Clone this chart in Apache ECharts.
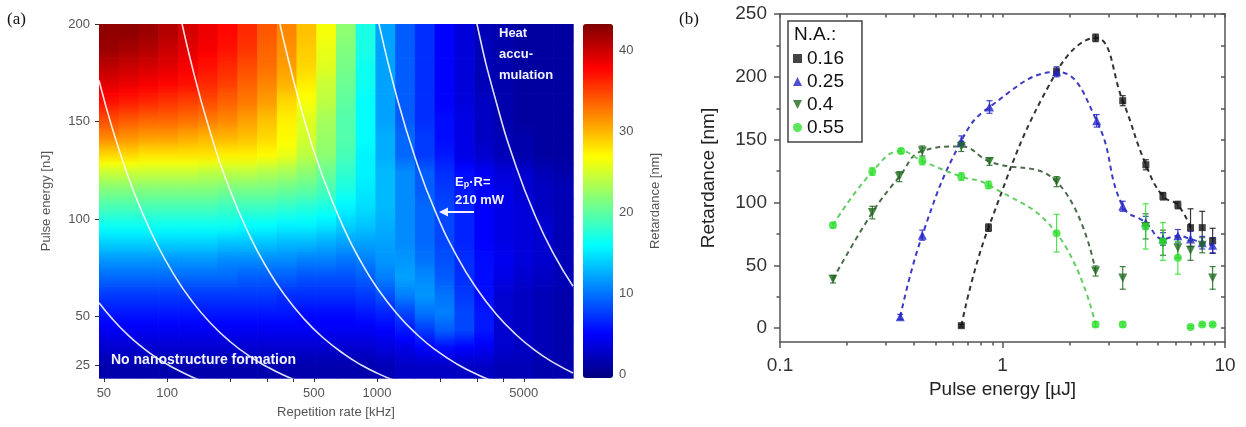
<!DOCTYPE html>
<html><head><meta charset="utf-8">
<script src="https://cdn.jsdelivr.net/npm/echarts@6/dist/echarts.min.js"></script>
<style>html,body{margin:0;padding:0;background:#fff}#c{width:1246px;height:427px}</style>
</head><body><div id="c"></div><script>
// ================= Panel (a) data =================
const repRate = [52.8, 65.6, 81.5, 101, 126, 156, 194, 241, 299, 371, 461, 572, 710, 882, 1095, 1360, 1689, 2097, 2604, 3233, 4014, 4984, 6189, 7685];
const pulseE = [196, 187, 178, 169, 160, 151, 142, 133, 124, 115, 106, 97, 88, 79, 70, 61, 52, 43, 34, 25];
const retard = [
 [42.5,42.5,42,41,39.5,38.5,37.5,36,34,32,29.5,26.5,22,17,12,9,7,5,3.5,2,1.5,1,1,1],
 [42,41.5,41,40,39,38,37,35.5,33.5,31.5,29,26,21.5,17,12,9,7,5,3.5,2,1.5,1,1,1],
 [40.5,40,39.5,39,38,37,36,34.5,33,31,28.5,25.5,21,16.5,12,9,7,5,3.5,2,1.5,1,1,1],
 [39,38.5,38,37.5,37,36,35,33.5,32,30,27.5,24.5,20.5,16.5,12,9,7,5,3.5,2,1.5,1,1,1],
 [37,36.5,36,35.5,35,34.5,33.5,32.5,31,28.5,26.5,24,20,16,12,9,7,5,3.5,2.5,1.5,1,1,1],
 [34.5,34,33.5,33.5,33,32.5,32,31,29.5,27.5,25.5,23,19.5,16,12,9,7,5.5,4,2.5,1.5,1,1,1],
 [32,31.5,31,31,30.5,30,30,29.5,28.5,27,25,22.5,19.5,16,12.5,9.5,7.5,5.5,4,2.5,2,1.5,1,1],
 [28.5,28.5,28,28,28,28,27.5,27.5,27,26,24,22,19,15.5,12.5,9.5,7.5,6,4,3,2,1.5,1,1],
 [24.5,24.5,24.5,24.5,24.5,24,24,24,23.5,23,22,20.5,18,15.5,13,11,9,7,5.5,4.5,3.5,3,2,1.5],
 [21.5,21.5,21.5,21.5,21.5,21.5,21,21,21,20.5,20,19,17,15,13,11,9,7.5,6,5,4,3,2.5,2],
 [19,19,19,19,19,19,18.5,18.5,18.5,18,17.5,17,15.5,14.5,13,11,9.5,8,6.5,5,4,3.5,2.5,2],
 [16.5,16.5,16.5,16.5,16.5,16.5,16.5,16,16,15.5,15.5,15,14,13.5,12.5,11,9.5,8,6.5,5,4,3.5,3,2],
 [14,14,14,14,14,14,13.5,13.5,13.5,13,13,12.5,12,12,12,11,9.5,8,6.5,5,4,3.5,3,2],
 [11.5,11.5,11.5,11.5,11.5,11.5,11,11,11,11,10.5,10.5,10,10.5,11.5,11.5,10,8.5,7,5.5,4.5,3.5,3,2],
 [9.5,9.5,9.5,9.5,9.5,9.5,9.5,9,9,9,8.5,8.5,8.5,9,10.5,12,11,9,7,5.5,4,3,2.5,2],
 [7.5,7.5,7.5,7.5,7.5,7.5,7.5,7.5,7.5,7,7,7,7,7.5,8.5,10.5,11.5,10,7.5,5.5,3,2.5,2,1.5],
 [6,6,6,6,6,6,6,6,6,6,5.5,5.5,5.5,6,6.5,8,10,10.5,8,6,3,2.5,2,1.5],
 [4.5,4.5,4.5,4.5,4.5,4.5,4.5,4.5,4.5,4.5,4.5,4.5,4.5,4.5,5,6,7.5,9,8,6,3,2.5,2,1.5],
 [3,3,3,3,3,3,3,3,3,3,3,3,3,3,3.5,4,5,5.5,5,4.5,3,2.5,2,1.5],
 [1.5,1.5,1.5,1.5,1.5,1.5,1.5,1.5,1.5,1.5,1.5,1.5,1.5,1.5,2,2.5,2.5,2.5,2.5,2.5,2,2,1.5,1.5]
];
// constant-power contour lines
const contourR = [47.4,55,65,75,90,110,130,160,200,250,300,360,450,550,700,850,1000,1250,1550,1900,2400,3000,3700,4600,5700,7000,8580];
const contourA = [57,48.6,40.5,34.7,28.5,23.0,19.2,15.3,null,null,null,null,null,null,null,null,null,null,null,null,null,null,null,null,null,null,null];
const contourB = [171,146,122.3,105,86.5,69.9,58.5,46.9,37.0,29.2,24.1,19.8,15.6,null,null,null,null,null,null,null,null,null,null,null,null,null,null];
const contourC = [null,null,null,null,266,215.4,180.5,145,114.5,90.4,74.6,61.5,48.6,39.3,30.5,24.8,20.9,16.5,null,null,null,null,null,null,null,null,null];
const contourD = [null,null,null,null,null,null,null,null,null,281,232,191.2,150.9,122,94.5,76.9,64.7,51.1,40.7,32.8,25.6,20.2,16.2,null,null,null,null];
const contourE = [null,null,null,null,null,null,null,null,null,null,null,null,null,null,null,243,204.7,161.5,128.6,103.6,80.9,63.9,51.1,40.6,32.3,26.0,21.0];
const contourF = [null,null,null,null,null,null,null,null,null,null,null,null,null,null,null,null,null,null,null,null,252.7,199.5,159.8,126.8,101,81.3,65.5];
const repTickVals = [50,100,200,300,400,500,1000,2000,3000,4000,5000];
const repLabelVals = [50,100,500,1000,5000];
const energyTicksA = [25,50,100,150,200];
const cbarTicks = [0,5,10,15,20,25,30,35,40];
const cbarLabels = [0,10,20,30,40];

// ================= Panel (b) data =================
const x016 = [0.653,0.865,1.75,2.62,3.47,4.41,5.26,6.14,7.0,7.9,8.8];
const y016 = [2,80,204,231,181,130,105,98,80,80,69.5];
const e016 = [1,3,3,3,4,4,3,3,15,13,10];
const x025 = [0.347,0.436,0.653,0.874,1.75,2.65,3.47,4.4,5.26,6.14,7.0,7.9,8.8];
const y025 = [9,74,149,176,204,165,97,84,71,73.5,71,68,66];
const e025 = [2,4,4,5,4,5,4,5,5,5,6,5,6];
const x04 = [0.173,0.26,0.344,0.436,0.653,0.874,1.75,2.62,3.47,4.4,5.26,6.14,7.0,7.9,8.8];
const y04 = [39,92,120.6,141,144.6,132.6,116.6,45.5,40,81,68,64,62,66,40];
const e04 = [3,5,4,4,4,3,4,4,9,10,10,8,8,6,9];
const x055 = [0.173,0.26,0.35,0.436,0.653,0.865,1.75,2.62,3.47,4.4,5.26,6.14,7.0,7.9,8.8];
const y055 = [82,124.6,141,133,120.6,114,75.6,3,3,81,69,56,1,3,3];
const e055 = [2,3,2,3,3,3,15,2,2,18,15,13,1,1,1];
// dashed guide curves (points along each curve)
const fit016 = [[0.653,2],[0.865,80],[1.75,204],[2.62,231],[3.47,181],[4.41,130],[5.26,105],[6.14,98],[7.0,80]];
const fit025 = [[0.347,9],[0.436,74],[0.653,149],[0.874,176],[1.75,204],[2.65,165],[3.47,97],[4.4,84],[5.26,71],[6.14,73.5],[7.0,71],[7.9,68],[8.8,66]];
const fit04 = [[0.173,39],[0.26,92],[0.344,120.6],[0.436,141],[0.653,144.6],[0.874,132.6],[1.75,116.6],[2.62,45.5]];
const fit055 = [[0.173,82],[0.26,124.6],[0.35,141],[0.436,133],[0.653,120.6],[0.865,114],[1.75,75.6],[2.62,3]];
const naNames = ['0.16','0.25','0.4','0.55'];
const eMajorB = [0.1,1,10];
const eMinorB = [0.2,0.3,0.4,0.5,0.6,0.7,0.8,0.9,2,3,4,5,6,7,8,9];
const retTicksB = [0,50,100,150,200,250];
const retMinorB = [25,75,125,175,225];

// ================= build =================
const SANS = '"Liberation Sans", Arial, sans-serif';
const L10 = Math.log10;
const fmtPow = v => String(Number(Math.pow(10, v).toPrecision(3)));
const xMinA = 47.4, xMaxA = 8580, yMinA = 18.4, yMaxA = 200;
const cbMin = -0.4, cbMax = 43.2;
const JET = ['#00007F','#0000FF','#007FFF','#00FFFF','#7FFF7F','#FFFF00','#FF7F00','#FF0000','#7F0000'];
const jetColor = v => echarts.color.lerp(Math.max(0, Math.min(1, (v - cbMin) / (cbMax - cbMin))), JET);

const rEdges = [xMinA];
for (let i = 1; i < repRate.length; i++) rEdges.push(Math.sqrt(repRate[i-1]*repRate[i]));
rEdges.push(xMaxA);
const eEdges = [yMaxA];
for (let i = 1; i < pulseE.length; i++) eEdges.push((pulseE[i-1]+pulseE[i])/2);
eEdges.push(yMinA);

const heatData = [];
retard.forEach((row, ri) => row.forEach((v, ci) => heatData.push([repRate[ci], pulseE[ri], v, ci, ri])));

const contourSeries = [contourA, contourB, contourC, contourD, contourE, contourF].map(arr => ({
  type: 'line', xAxisIndex: 0, yAxisIndex: 0, smooth: true, showSymbol: false, silent: true,
  data: contourR.map((r, i) => [r, arr[i]]).filter(p => p[1] !== null),
  lineStyle: { color: 'rgba(255,255,255,0.88)', width: 1.6 }, z: 5
}));

const colors = ['#141414', '#2424c8', '#1f6a1f', '#30e030'];
const fitColors = ['#333333', '#3b3bc4', '#4d6b4d', '#66cc66'];
const symbols = ['rect', 'triangle', 'path://M0,0 L10,0 L5,10 Z', 'circle'];
const sizes = [7, 9, 9, 8];
const xs = [x016, x025, x04, x055], ys = [y016, y025, y04, y055], es = [e016, e025, e04, e055];
const fits = [fit016, fit025, fit04, fit055];

const bSeries = [];
fits.forEach((f, k) => bSeries.push({
  type: 'line', name: 'fit' + k, xAxisIndex: 2, yAxisIndex: 1, data: f, smooth: 0.45, showSymbol: false, silent: true,
  lineStyle: { color: fitColors[k], width: 2, type: [5, 4] }, z: 3
}));
xs.forEach((xa, k) => bSeries.push({
  type: 'custom', name: 'err' + k, xAxisIndex: 2, yAxisIndex: 1, silent: true, z: 4,
  data: xa.map((x, i) => [x, ys[k][i], es[k][i]]),
  renderItem: (params, api) => {
    const x = api.value(0), y = api.value(1), e = api.value(2);
    const hi = api.coord([x, y + e]), lo = api.coord([x, y - e]);
    const hw = 3, st = { stroke: colors[k], lineWidth: 1.2, opacity: 0.85 };
    return { type: 'group', children: [
      { type: 'line', shape: { x1: hi[0], y1: hi[1], x2: lo[0], y2: lo[1] }, style: st },
      { type: 'line', shape: { x1: hi[0]-hw, y1: hi[1], x2: hi[0]+hw, y2: hi[1] }, style: st },
      { type: 'line', shape: { x1: lo[0]-hw, y1: lo[1], x2: lo[0]+hw, y2: lo[1] }, style: st }
    ]};
  }
}));
xs.forEach((xa, k) => bSeries.push({
  type: 'scatter', name: naNames[k], xAxisIndex: 2, yAxisIndex: 1, z: 6,
  data: xa.map((x, i) => [x, ys[k][i]]), symbol: symbols[k], symbolSize: sizes[k],
  itemStyle: { color: colors[k] }
}));

const hideAxis = { axisLine: { show: false, onZero: false }, axisTick: { show: false }, axisLabel: { show: false }, splitLine: { show: false } };

const option = {
  animation: false,
  backgroundColor: '#ffffff',
  grid: [
    { left: 99, top: 24, width: 474, height: 354 },
    { left: 780, top: 14, width: 445, height: 328 },
    { left: 583, top: 24, width: 30, height: 354 }
  ],
  xAxis: [
    Object.assign({ gridIndex: 0, type: 'log', min: xMinA, max: xMaxA, show: false }, hideAxis),
    { gridIndex: 0, type: 'value', min: L10(xMinA), max: L10(xMaxA), position: 'bottom',
      axisLine: { show: false, onZero: false }, splitLine: { show: false },
      axisTick: { show: true, customValues: repTickVals.map(L10), length: 4, lineStyle: { color: '#333', width: 1 } },
      axisLabel: { customValues: repLabelVals.map(L10), formatter: fmtPow, fontSize: 13, color: '#555', margin: 9, fontFamily: SANS },
      name: 'Repetition rate [kHz]', nameLocation: 'middle', nameGap: 28,
      nameTextStyle: { fontSize: 13, color: '#555', fontFamily: SANS } },
    Object.assign({ gridIndex: 1, type: 'log', min: 0.1, max: 10, show: false }, hideAxis),
    { gridIndex: 1, type: 'value', min: -1, max: 1, position: 'bottom',
      axisLine: { show: true, onZero: false, lineStyle: { color: '#555', width: 1.5 } }, splitLine: { show: false },
      axisTick: { show: true, customValues: eMajorB.map(L10), length: 6, lineStyle: { color: '#555', width: 1.5 } },
      axisLabel: { customValues: eMajorB.map(L10), formatter: fmtPow, fontSize: 19, color: '#333', margin: 14, fontFamily: SANS },
      name: 'Pulse energy [µJ]', nameLocation: 'middle', nameGap: 36,
      nameTextStyle: { fontSize: 19, color: '#222', fontFamily: SANS } },
    { gridIndex: 1, type: 'value', min: -1, max: 1, position: 'bottom',
      axisLine: { show: false, onZero: false }, splitLine: { show: false }, axisLabel: { show: false },
      axisTick: { show: true, customValues: eMinorB.map(L10), length: 3.5, lineStyle: { color: '#555', width: 1.5 } } },
    { gridIndex: 1, type: 'value', min: -1, max: 1, position: 'top',
      axisLine: { show: true, onZero: false, lineStyle: { color: '#555', width: 1.5 } }, splitLine: { show: false }, axisLabel: { show: false },
      axisTick: { show: true, inside: true, customValues: eMajorB.concat(eMinorB).map(L10), length: 3.5, lineStyle: { color: '#555', width: 1.5 } } },
    Object.assign({ gridIndex: 2, type: 'value', min: 0, max: 1, show: false }, hideAxis)
  ],
  yAxis: [
    { gridIndex: 0, type: 'value', min: yMinA, max: yMaxA,
      axisLine: { show: false, onZero: false }, splitLine: { show: false },
      axisTick: { show: true, customValues: energyTicksA, length: 4, lineStyle: { color: '#333', width: 1 } },
      axisLabel: { customValues: energyTicksA, fontSize: 13, color: '#555', margin: 9, fontFamily: SANS },
      name: 'Pulse energy [nJ]', nameLocation: 'middle', nameGap: 46, nameRotate: 90,
      nameTextStyle: { fontSize: 13, color: '#555', fontFamily: SANS } },
    { gridIndex: 1, type: 'value', min: -11, max: 250, position: 'left',
      axisLine: { show: true, onZero: false, lineStyle: { color: '#555', width: 1.5 } }, splitLine: { show: false },
      axisTick: { show: true, customValues: retTicksB, length: 6, lineStyle: { color: '#555', width: 1.5 } },
      axisLabel: { customValues: retTicksB, fontSize: 19, color: '#333', margin: 13, fontFamily: SANS },
      name: 'Retardance [nm]', nameLocation: 'middle', nameGap: 62, nameRotate: 90,
      nameTextStyle: { fontSize: 19, color: '#222', fontFamily: SANS } },
    { gridIndex: 1, type: 'value', min: -11, max: 250, position: 'left',
      axisLine: { show: false, onZero: false }, splitLine: { show: false }, axisLabel: { show: false },
      axisTick: { show: true, customValues: retMinorB, length: 3.5, lineStyle: { color: '#555', width: 1.5 } } },
    { gridIndex: 1, type: 'value', min: -11, max: 250, position: 'right',
      axisLine: { show: true, onZero: false, lineStyle: { color: '#555', width: 1.5 } }, splitLine: { show: false }, axisLabel: { show: false },
      axisTick: { show: true, inside: true, customValues: retTicksB.concat(retMinorB), length: 4, lineStyle: { color: '#555', width: 1.5 } } },
    { gridIndex: 2, type: 'value', min: cbMin, max: cbMax, position: 'right',
      axisLine: { show: false, onZero: false }, splitLine: { show: false },
      axisTick: { show: true, inside: true, customValues: cbarTicks, length: 4, lineStyle: { color: '#444', width: 1 } },
      axisLabel: { customValues: cbarLabels, fontSize: 13, color: '#555', margin: 6, fontFamily: SANS },
      name: 'Retardance [nm]', nameLocation: 'middle', nameGap: 36, nameRotate: 90,
      nameTextStyle: { fontSize: 13, color: '#555', fontFamily: SANS } }
  ],
  visualMap: [{
    type: 'continuous', seriesIndex: 0, dimension: 2, min: cbMin, max: cbMax,
    calculable: false, hoverLink: false, left: 583, top: 24, itemWidth: 30, itemHeight: 354, padding: 0,
    text: null, showLabel: false,
    inRange: { color: JET }
  }],
  legend: {
    data: naNames, orient: 'vertical', left: 788, top: 21, padding: [28, 18, 5, 5], itemGap: 4,
    itemWidth: 9, itemHeight: 9, borderColor: '#444', borderWidth: 1.5, selectedMode: false,
    textStyle: { fontSize: 19, color: '#111', fontFamily: SANS }
  },
  graphic: [
    { type: 'text', x: 7, y: 20, style: { text: '(a)', fontSize: 17, fontFamily: '"Liberation Serif", serif', fill: '#111', verticalAlign: 'middle' } },
    { type: 'text', x: 679, y: 20, style: { text: '(b)', fontSize: 17, fontFamily: '"Liberation Serif", serif', fill: '#111', verticalAlign: 'middle' } },
    { type: 'text', x: 794, y: 35, z: 100, style: { text: 'N.A.:', fontSize: 19, fontFamily: SANS, fill: '#111', verticalAlign: 'middle' } },
    { type: 'text', x: 499, y: 33, z: 100, style: { text: 'Heat', fontSize: 13, fontWeight: 'bold', fontFamily: SANS, fill: '#f2f2ff', verticalAlign: 'middle' } },
    { type: 'text', x: 499, y: 54, z: 100, style: { text: 'accu-', fontSize: 13, fontWeight: 'bold', fontFamily: SANS, fill: '#f2f2ff', verticalAlign: 'middle' } },
    { type: 'text', x: 499, y: 75, z: 100, style: { text: 'mulation', fontSize: 13, fontWeight: 'bold', fontFamily: SANS, fill: '#f2f2ff', verticalAlign: 'middle' } },
    { type: 'text', x: 455, y: 182, z: 100, style: { text: '{a|E}{s|p}{a|·R=}', fontFamily: SANS, fill: '#f2f2ff', verticalAlign: 'middle',
        rich: { a: { fontSize: 13, fontWeight: 'bold', fill: '#f2f2ff', fontFamily: SANS }, s: { fontSize: 9, fontWeight: 'bold', fill: '#f2f2ff', fontFamily: SANS, padding: [6, 0, 0, 0] } } } },
    { type: 'text', x: 455, y: 200, z: 100, style: { text: '210 mW', fontSize: 13, fontWeight: 'bold', fontFamily: SANS, fill: '#f2f2ff', verticalAlign: 'middle' } },
    { type: 'line', z: 100, shape: { x1: 474, y1: 212, x2: 446, y2: 212 }, style: { stroke: '#f2f2ff', lineWidth: 2 } },
    { type: 'polygon', z: 100, shape: { points: [[439, 212], [448, 207.5], [448, 216.5]] }, style: { fill: '#f2f2ff' } },
    { type: 'text', x: 111, y: 360, z: 100, style: { text: 'No nanostructure formation', fontSize: 14, fontWeight: 'bold', fontFamily: SANS, fill: '#f2f2ff', verticalAlign: 'middle' } }
  ],
  series: [
    { type: 'custom', xAxisIndex: 0, yAxisIndex: 0, data: heatData, silent: true, z: 1,
      encode: { x: 0, y: 1 },
      renderItem: (params, api) => {
        const ci = api.value(3), ri = api.value(4), v = api.value(2);
        const p1 = api.coord([rEdges[ci], eEdges[ri]]);
        const p2 = api.coord([rEdges[ci + 1], eEdges[ri + 1]]);
        const vu = ri > 0 ? retard[ri - 1][ci] : v;
        const vd = ri < retard.length - 1 ? retard[ri + 1][ci] : v;
        const fill = new echarts.graphic.LinearGradient(0, 0, 0, 1, [
          { offset: 0, color: jetColor((v + vu) / 2) },
          { offset: 0.5, color: api.visual('color') },
          { offset: 1, color: jetColor((v + vd) / 2) }
        ]);
        return { type: 'rect', shape: { x: p1[0], y: p1[1], width: p2[0] - p1[0] + 0.7, height: p2[1] - p1[1] + 0.7 },
          style: { fill: fill } };
      } }
  ].concat(contourSeries, bSeries)
};

const chart = echarts.init(document.getElementById('c'), null, { renderer: 'canvas', width: 1246, height: 427 });
chart.setOption(option);
</script></body></html>
